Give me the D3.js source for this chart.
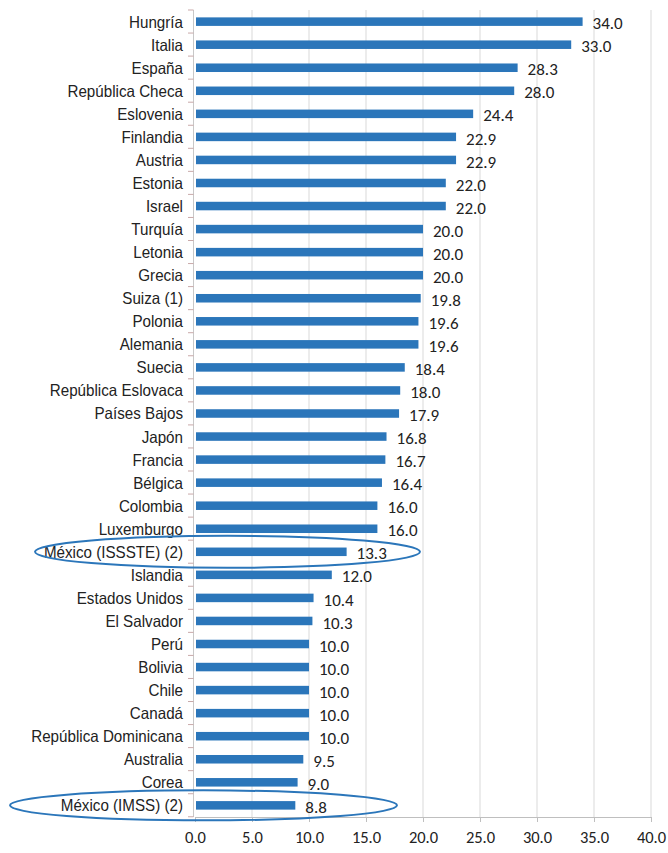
<!DOCTYPE html>
<html><head><meta charset="utf-8">
<script src="https://cdn.jsdelivr.net/npm/d3@7"></script>
<style>body{margin:0;background:#fff;}</style>
</head><body>
<svg id="chart" width="668" height="853"></svg>
<script>
const categories = ["Hungría","Italia","España","República Checa","Eslovenia","Finlandia","Austria","Estonia","Israel","Turquía","Letonia","Grecia","Suiza (1)","Polonia","Alemania","Suecia","República Eslovaca","Países Bajos","Japón","Francia","Bélgica","Colombia","Luxemburgo","México (ISSSTE) (2)","Islandia","Estados Unidos","El Salvador","Perú","Bolivia","Chile","Canadá","República Dominicana","Australia","Corea","México (IMSS) (2)"];
const values = [34.0,33.0,28.3,28.0,24.4,22.9,22.9,22.0,22.0,20.0,20.0,20.0,19.8,19.6,19.6,18.4,18.0,17.9,16.8,16.7,16.4,16.0,16.0,13.3,12.0,10.4,10.3,10.0,10.0,10.0,10.0,10.0,9.5,9.0,8.8];
const xTicks = [0,5,10,15,20,25,30,35,40];
const highlighted = ["México (ISSSTE) (2)","México (IMSS) (2)"];

const svg = d3.select("#chart");
const x = d3.scaleLinear().domain([0,40]).range([195,651]);
const y = d3.scaleBand().domain(categories).range([10,817]).paddingInner(0.63).paddingOuter(0.32);
const step = y.step();

// gridlines
svg.append("g").selectAll("line").data(xTicks.slice(1)).join("line")
  .attr("x1",d=>x(d)).attr("x2",d=>x(d)).attr("y1",10).attr("y2",817)
  .attr("stroke","#d9d9d9").attr("stroke-width",1);

// bottom axis
const xAxis = d3.axisBottom(x).tickValues(xTicks).tickFormat(d3.format(".1f")).tickSize(5).tickSizeOuter(0);
const gx = svg.append("g").attr("transform","translate(0,817)").call(xAxis);
gx.select(".domain").attr("stroke","#bfbfbf");
gx.selectAll(".tick line").attr("stroke","#bfbfbf");
gx.selectAll("text").attr("font-family","Carlito, Lato, 'Open Sans', sans-serif").attr("font-size",16.5).attr("fill","#222").attr("y",14).attr("dy","0.71em");

// left axis line and ticks at band boundaries
svg.append("line").attr("x1",193.5).attr("x2",193.5).attr("y1",10).attr("y2",817).attr("stroke","#c8c8c8");
const bounds = d3.range(categories.length+1).map(i=>10+i*step);
svg.append("g").selectAll("line").data(bounds).join("line")
  .attr("x1",188).attr("x2",193.5).attr("y1",d=>d).attr("y2",d=>d)
  .attr("stroke","#c9a9a9").attr("stroke-width",1);

// bars
svg.append("g").selectAll("rect").data(categories).join("rect")
  .attr("x",x(0)+1).attr("y",d=>y(d)).attr("height",y.bandwidth())
  .attr("width",(d,i)=>x(values[i])-x(0)-1)
  .attr("fill","#2b76ba");

// category labels (condensed)
svg.append("g").selectAll("text").data(categories).join("text")
  .attr("transform",d=>`translate(183,${y(d)+y.bandwidth()/2}) scale(0.92,1)`)
  .attr("dy","0.36em")
  .attr("text-anchor","end")
  .attr("font-family","'Liberation Sans',Arial,sans-serif")
  .attr("font-size",16.5).attr("fill","#222")
  .text(d=>d);

// value labels
svg.append("g").selectAll("text").data(categories).join("text")
  .attr("x",(d,i)=>x(values[i])+10).attr("y",d=>y(d)+y.bandwidth()/2+1.5).attr("dy","0.36em")
  .attr("font-family","Carlito, Lato, 'Open Sans', sans-serif")
  .attr("font-size",17).attr("fill","#222")
  .text((d,i)=>d3.format(".1f")(values[i]));

// highlight ellipses
const ell = [{c:highlighted[0],x0:35,x1:420,ry:16},{c:highlighted[1],x0:10,x1:397,ry:15}];
svg.append("g").selectAll("ellipse").data(ell).join("ellipse")
  .attr("cx",d=>(d.x0+d.x1)/2).attr("rx",d=>(d.x1-d.x0)/2)
  .attr("cy",d=>y(d.c)+y.bandwidth()/2).attr("ry",d=>d.ry)
  .attr("fill","none").attr("stroke","#2b76ba").attr("stroke-width",2);
</script>
</body></html>
